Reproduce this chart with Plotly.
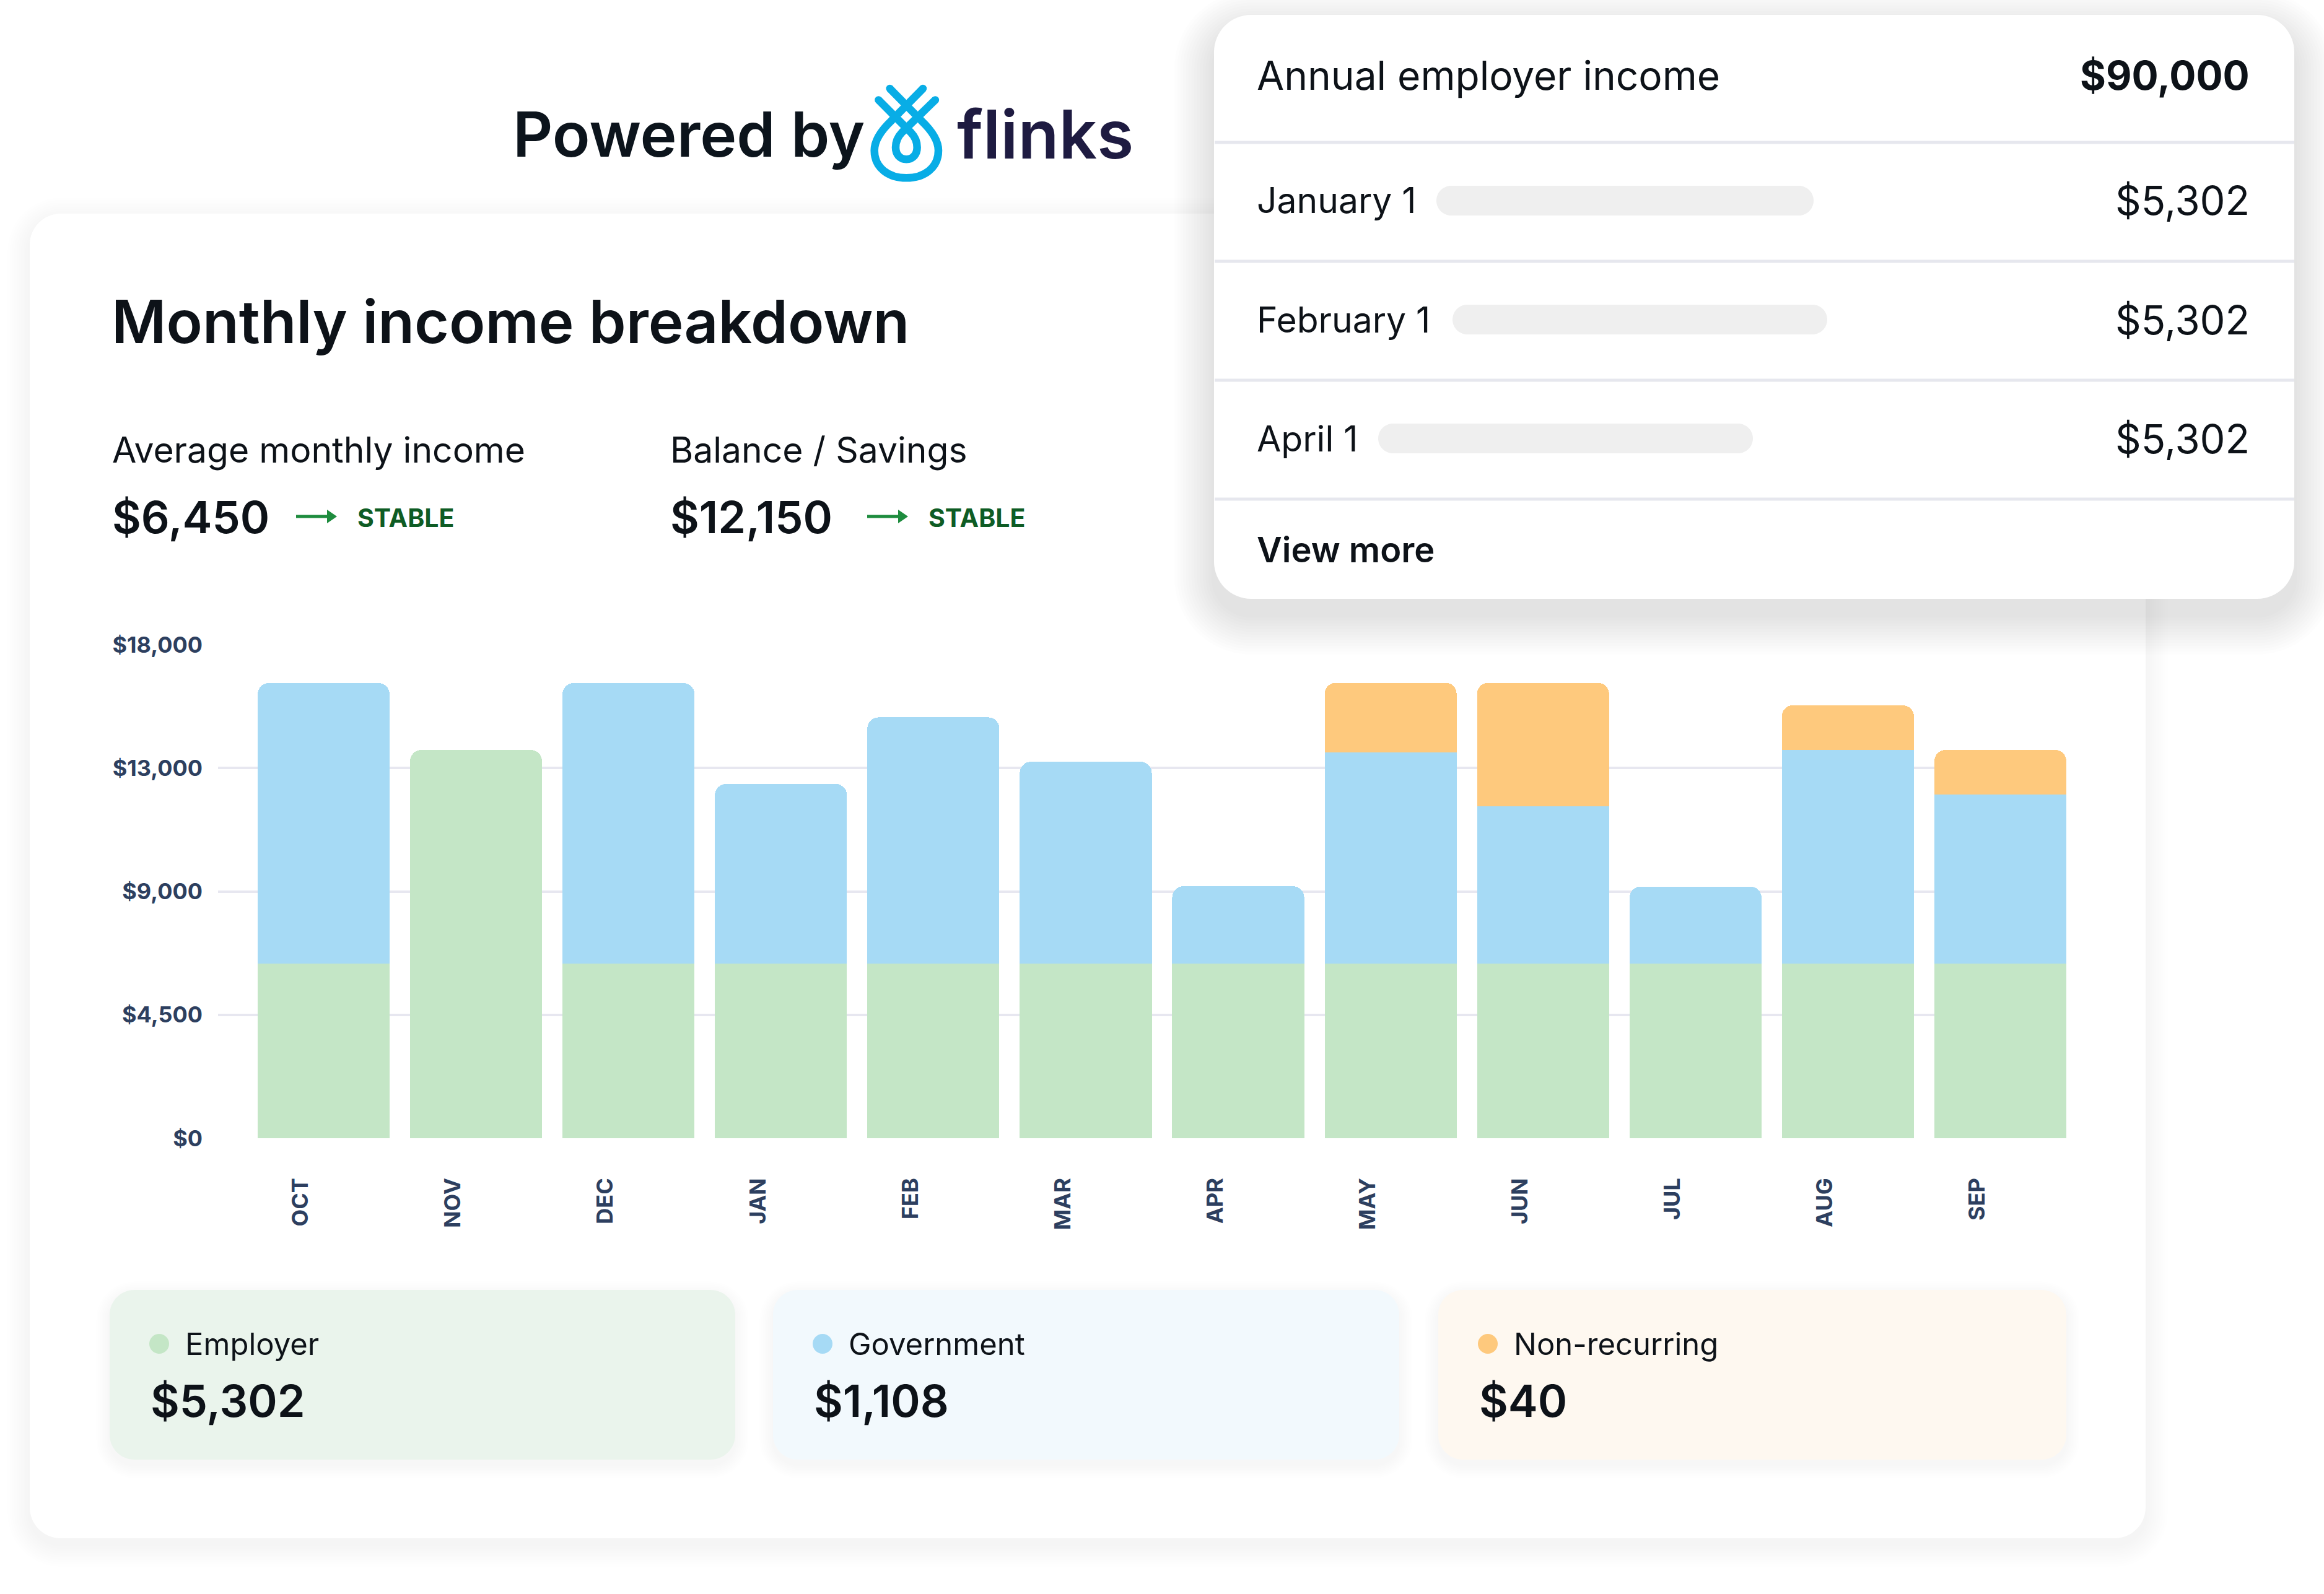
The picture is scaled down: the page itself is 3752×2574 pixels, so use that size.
import plotly.graph_objects as go

W, H = 3752, 2574

# ---------------- data ----------------
months = ["OCT", "NOV", "DEC", "JAN", "FEB", "MAR", "APR", "MAY", "JUN", "JUL", "AUG", "SEP"]
employer = [6380, 14160, 6380, 6380, 6380, 6380, 6380, 6380, 6380, 6380, 6380, 6380]
government = [10220, 0, 10220, 6540, 8970, 7350, 2810, 7700, 5720, 2800, 7780, 6160]
non_recurring = [0, 0, 0, 0, 0, 0, 0, 2530, 4510, 0, 1630, 1620]

y_tick_values = [0, 4500, 9000, 13500, 18000]
y_tick_labels = ["$0", "$4,500", "$9,000", "$13,000", "$18,000"]

series_names = ["Employer", "Government", "Non-recurring"]
series_totals = ["$5,302", "$1,108", "$40"]

summary_labels = ["Average monthly income", "Balance / Savings"]
summary_values = ["$6,450", "$12,150"]
summary_trends = ["STABLE", "STABLE"]

annual_label = "Annual employer income"
annual_value = "$90,000"
payment_dates = ["January 1", "February 1", "April 1"]
payment_amounts = ["$5,302", "$5,302", "$5,302"]

# ---------------- styles ----------------
GREEN = "#c4e6c6"
BLUE = "#a6daf5"
ORANGE = "#fec97d"
DARK = "#0d1218"
TICK = "#2d3f5f"
GRID = "#e7e7f0"
FONT = "Inter"


def px(x):
    return x / W


def py(y):
    return 1 - y / H


def pt(x, y):
    return f"{px(x):.6f},{py(y):.6f}"


K = 0.5523


def rrect_path(x0, y0, x1, y1, r):
    r = min(r, (x1 - x0) / 2, (y1 - y0) / 2)
    k = K * r
    return (
        f"M{pt(x0 + r, y0)} L{pt(x1 - r, y0)} "
        f"C{pt(x1 - r + k, y0)} {pt(x1, y0 + r - k)} {pt(x1, y0 + r)} "
        f"L{pt(x1, y1 - r)} "
        f"C{pt(x1, y1 - r + k)} {pt(x1 - r + k, y1)} {pt(x1 - r, y1)} "
        f"L{pt(x0 + r, y1)} "
        f"C{pt(x0 + r - k, y1)} {pt(x0, y1 - r + k)} {pt(x0, y1 - r)} "
        f"L{pt(x0, y0 + r)} "
        f"C{pt(x0, y0 + r - k)} {pt(x0 + r - k, y0)} {pt(x0 + r, y0)} Z"
    )


shapes = []


def rrect(x0, y0, x1, y1, r, fill, line_color=None, line_width=0):
    shapes.append(dict(
        type="path", xref="paper", yref="paper", layer="below",
        path=rrect_path(x0, y0, x1, y1, r), fillcolor=fill,
        line=dict(width=line_width, color=line_color or "rgba(0,0,0,0)"),
    ))


def shadow(x0, y0, x1, y1, r, n, spread, dy, alpha, rgb="40,46,60"):
    for i in range(n, 0, -1):
        e = spread * i / n
        rrect(x0 - e, y0 - e + dy, x1 + e, y1 + e + dy, r + e,
              f"rgba({rgb},{alpha})")


annotations = []


def text(x, y, s, size, weight=400, color=DARK, anchor="left"):
    annotations.append(dict(
        x=px(x), y=py(y), xref="paper", yref="paper", text=s, showarrow=False,
        xanchor=anchor, yanchor="middle",
        font=dict(family=FONT, size=size, color=color, weight=weight),
    ))


# ---------------- main card ----------------
shadow(48, 345, 3464, 2484, 50, 10, 36, 10, 0.0035)
rrect(48, 345, 3464, 2484, 50, "#ffffff")

# ---------------- right card ----------------
shadow(1960, 24, 3704, 967, 60, 14, 64, 26, 0.0075)
rrect(1960, 24, 3704, 967, 60, "#ffffff")

text(2027, 121, annual_label, 64, 400)
text(3634, 121, annual_value, 64, 700, anchor="right")
divider_y = [230, 422, 614, 806]
for dy_ in divider_y:
    shapes.append(dict(type="rect", xref="paper", yref="paper", layer="below",
                       x0=px(1961), x1=px(3704), y0=py(dy_ - 2.5), y1=py(dy_ + 2.5),
                       fillcolor="#e6e7ee", line=dict(width=0)))
row_y = [324, 516, 708]
bar_x = [(2319, 2928), (2345, 2950), (2225, 2830)]
for i, (d, a) in enumerate(zip(payment_dates, payment_amounts)):
    text(2027, row_y[i], d, 57, 400)
    text(3634, row_y[i], a, 65, 400, anchor="right")
    rrect(bar_x[i][0], row_y[i] - 24, bar_x[i][1], row_y[i] + 24, 24, "#efefef")
text(2027, 888, "View more", 56, 600)

# ---------------- header logo ----------------
text(826, 216, "Powered by", 100, 600, color="#0c141c")
text(1543, 216, "flinks", 108, 600, color="#1e1b41")


def zp(zx, zy):
    return pt(1400 + zx / 3, 128 + zy / 3)


LOGO = "#08ade6"
outer = (f"M{zp(110,45)} L{zp(262,200)} C{zp(320,255)} {zp(345,300)} {zp(345,345)} "
         f"C{zp(345,430)} {zp(275,478)} {zp(190,478)} C{zp(105,478)} {zp(35,430)} {zp(35,345)} "
         f"C{zp(35,300)} {zp(60,255)} {zp(118,200)} L{zp(270,45)}")
inner = (f"M{zp(55,100)} L{zp(212,258)} C{zp(235,282)} {zp(242,305)} {zp(242,330)} "
         f"C{zp(242,365)} {zp(220,388)} {zp(190,388)} C{zp(160,388)} {zp(138,365)} {zp(138,330)} "
         f"C{zp(138,305)} {zp(145,282)} {zp(168,258)} L{zp(330,100)}")
for p in (outer, inner):
    shapes.append(dict(type="path", xref="paper", yref="paper", layer="above",
                       path=p, line=dict(color=LOGO, width=12.5)))
for tx, ty in [(110, 45), (270, 45), (55, 100), (330, 100)]:
    cx, cy = 1400 + tx / 3, 128 + ty / 3
    shapes.append(dict(type="circle", xref="paper", yref="paper", layer="above",
                       x0=px(cx - 6.2), x1=px(cx + 6.2), y0=py(cy + 6.2), y1=py(cy - 6.2),
                       fillcolor=LOGO, line=dict(width=0)))

# ---------------- title + summary ----------------
text(178, 519, "Monthly income breakdown", 96, 600)
summary_x = [179, 1080]
for i in range(2):
    x0 = summary_x[i]
    text(x0, 727, summary_labels[i], 57, 400)
    text(x0, 834, summary_values[i], 72, 600)
    ax0 = x0 + (299 if i == 0 else 320)
    shapes.append(dict(type="line", xref="paper", yref="paper", layer="above",
                       x0=px(ax0), x1=px(ax0 + 54), y0=py(834), y1=py(834),
                       line=dict(color="#1e8c3e", width=5)))
    shapes.append(dict(type="path", xref="paper", yref="paper", layer="above",
                       path=f"M{pt(ax0 + 50, 823)} L{pt(ax0 + 66, 834)} L{pt(ax0 + 50, 845)} Z",
                       fillcolor="#1e8c3e", line=dict(width=0)))
    text(ax0 + 97, 836, summary_trends[i], 41, 700, color="#0e5c24")

# ---------------- legend cards ----------------
card_x = [(177, 1187), (1248, 2259), (2322, 3336)]
card_bg = ["#eaf4ec", "#f2f9fd", "#fef8f0"]
dot_col = [GREEN, BLUE, ORANGE]
for i in range(3):
    x0, x1 = card_x[i]
    shadow(x0, 2083, x1, 2357, 40, 8, 22, 8, 0.003)
    rrect(x0, 2083, x1, 2357, 40, card_bg[i])
    shapes.append(dict(type="circle", xref="paper", yref="paper", layer="below",
                       x0=px(x0 + 64), x1=px(x0 + 96), y0=py(2186), y1=py(2154),
                       fillcolor=dot_col[i], line=dict(width=0)))
    text(x0 + 120, 2170, series_names[i], 49, 400)
    text(x0 + 64, 2261, series_totals[i], 72, 600)

# ---------------- chart ----------------
fig = go.Figure()
for name, vals, col in [("Employer", employer, GREEN), ("Government", government, BLUE),
                        ("Non-recurring", non_recurring, ORANGE)]:
    fig.add_trace(go.Bar(x=months, y=vals, name=name, marker=dict(color=col, line=dict(width=0)),
                         hoverinfo="x+y+name"))

label_shift = 0.15
fig.update_layout(
    width=W, height=H,
    margin=dict(l=0, r=0, t=0, b=0, pad=0, autoexpand=False),
    paper_bgcolor="#ffffff", plot_bgcolor="rgba(0,0,0,0)",
    barmode="stack", bargap=0.134, barcornerradius=18,
    showlegend=False,
    font=dict(family=FONT),
    xaxis=dict(
        domain=[px(352), px(3336)], type="category", range=[-0.693, 11.433],
        tickmode="array", tickvals=[i - label_shift for i in range(len(months))], ticktext=months,
        tickangle=-90, tickfont=dict(family=FONT, size=36, color=TICK, weight=700),
        showgrid=False, showline=False, zeroline=False, ticks="", ticklabelstandoff=56,
        automargin=False, fixedrange=True,
    ),
    yaxis=dict(
        domain=[py(1838), py(1041)], range=[0, 18000],
        tickmode="array", tickvals=y_tick_values, ticktext=y_tick_labels,
        tickfont=dict(family=FONT, size=36, color=TICK, weight=700),
        showgrid=True, gridcolor=GRID, gridwidth=4, zeroline=False, showline=False,
        ticks="", ticklabelstandoff=24, automargin=False, fixedrange=True,
    ),
    shapes=shapes, annotations=annotations,
)

fig.write_html(
    "out.html",
    config={"displayModeBar": False},
    post_script="document.body.style.margin='0';document.body.style.overflow='hidden';",
)
